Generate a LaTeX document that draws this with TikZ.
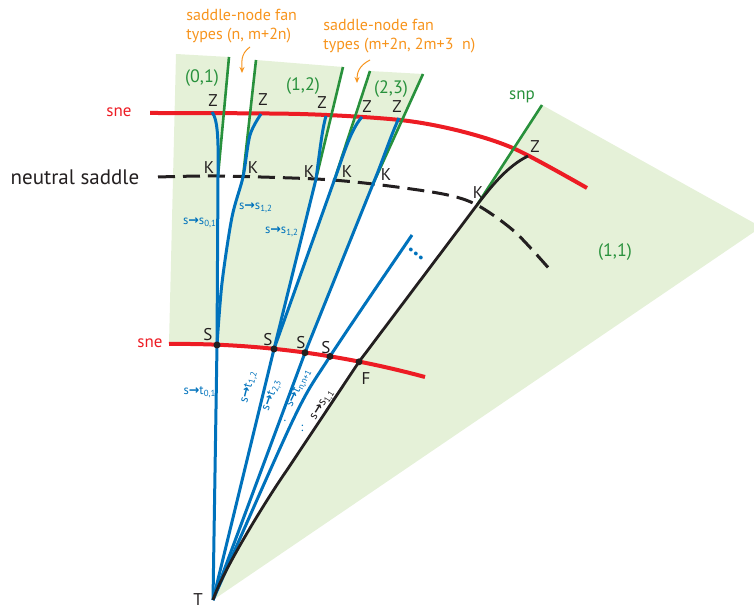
\documentclass[tikz,border=0pt]{standalone}
\usepackage{fontspec}
\setmainfont{PT Sans}
\newfontfamily\arrowfont{DejaVu Sans}
\usetikzlibrary{arrows.meta}
\definecolor{snered}{RGB}{237,28,36}
\definecolor{orbitblue}{RGB}{0,114,188}
\definecolor{fangreen}{RGB}{40,145,60}
\definecolor{fanfill}{RGB}{229,241,216}
\definecolor{notecolor}{RGB}{247,148,29}
\definecolor{inkblack}{RGB}{35,31,32}
\newcommand{\sarr}{{\arrowfont\bfseries →}}

\begin{document}
\begin{tikzpicture}[x=0.5pt,y=-0.5pt,
    lbl/.style={font=\fontsize{8.5}{10}\selectfont, text=inkblack, inner sep=0pt},
    fanlbl/.style={font=\fontsize{9}{11}\selectfont, text=fangreen, inner sep=0pt},
    orblbl/.style={font=\fontsize{6.3}{8}\selectfont, text=orbitblue, inner sep=0pt},
    notelbl/.style={font=\fontsize{8}{9.5}\selectfont, text=notecolor, align=left, inner sep=0pt, anchor=west},
    orbit/.style={orbitblue, line width=1.5pt},
    fanline/.style={fangreen, line width=1.3pt},
    sneline/.style={snered, line width=2pt},
    sdot/.style={circle, fill=inkblack, inner sep=0pt, minimum size=3.5pt},
    notearrow/.style={notecolor, line width=0.5pt, -{Stealth[length=3pt,width=2.5pt]}}
  ]
  \useasboundingbox (0,0) rectangle (754,608);

  % points on the fan
  \coordinate (T)  at (213,600);
  \coordinate (S1) at (217,345);
  \coordinate (S2) at (274,349);
  \coordinate (S3) at (305,352.7);
  \coordinate (S4) at (330,356.4);
  \coordinate (F)  at (359,361.8);
  \coordinate (K1) at (218,176);
  \coordinate (K2) at (243,177);
  \coordinate (K3) at (316,179);
  \coordinate (K4) at (334,181);
  \coordinate (K5) at (373,184);
  \coordinate (K6) at (477,205);
  \coordinate (Z1) at (212,112);
  \coordinate (Z2) at (261,114);
  \coordinate (Z3) at (326,116);
  \coordinate (Z4) at (362,117);
  \coordinate (Z5) at (399,118);
  \coordinate (Z6) at (528,156);
  \coordinate (bend) at (287,470);
  \coordinate (gA) at (229,57);
  \coordinate (gB) at (256,60);
  \coordinate (gC) at (343,67);
  \coordinate (gD) at (370,71);
  \coordinate (gE) at (423,74);
  \coordinate (gF) at (542,105);

  % fan regions
  \fill[fanfill] (176,54) -- (gA) -- (K1) -- (S1) -- (169,344) -- cycle;
  \fill[fanfill] (gB) -- (gC) -- (K3) -- (S2) -- (S1)
    -- plot[smooth] coordinates {(S1) (222,283) (232,217) (K2)} -- cycle;
  \fill[fanfill] (gD) -- (gE) -- (K5) -- (S3) -- (S2) -- (K4) -- cycle;
  \fill[fanfill] (gF) -- (754,223) -- (754,232) -- (T)
    .. controls (222,572) and (266,500) .. (bend) -- (F) -- (K6) -- cycle;

  % neutral saddle curve
  \draw[inkblack, line width=1.5pt, dash pattern=on 8.5pt off 4pt]
    plot[smooth] coordinates {(158,177) (K1) (K3) (K5) (443,194) (K6) (515,232) (552,272)};

  % saddle-node curves
  \draw[sneline] plot[smooth] coordinates {(150,113) (300,114) (400,120) (460,131) (515,149) (587,188)};
  \draw[sneline] (169,344) .. controls (254,343) and (340,354) .. (425,377);

  % saddle-node fan boundaries
  \draw[fanline] (gA) -- (K1);
  \draw[fanline] (gB) -- (K2);
  \draw[fanline] (gC) -- (K3);
  \draw[fanline] (gD) -- (K4);
  \draw[fanline] (gE) -- (K5);
  \draw[fanline] (gF) -- (K6);

  % orbits
  \draw[orbit] (T) -- (S1) -- (K1) .. controls (218.5,140) and (218,120) .. (Z1);
  \draw[orbit] plot[smooth] coordinates {(S1) (222,283) (232,217) (K2) (250,135) (Z2)};
  \draw[orbit] (T) -- (S2) -- (K3) .. controls (320,150) and (322,130) .. (Z3);
  \draw[orbit] (S2) -- (K4) .. controls (342,160) and (350,130) .. (Z4);
  \draw[orbit] (T) -- (S3) -- (K5) .. controls (383,160) and (391,135) .. (Z5);
  \draw[orbit] plot[smooth] coordinates {(T) (293,420) (S4) (412,235)};
  \draw[inkblack, line width=1.4pt, line join=round]
    (T) .. controls (222,572) and (266,500) .. (bend) -- (F) -- (K6)
    .. controls (493,184) and (508,166) .. (Z6);

  \foreach \p in {S1,S2,S3,S4,F}
    \node[sdot] (d\p) at (\p) {};

  % labels
  \node[lbl] (tT) at (198,600) {T};
  \node[lbl] (zA) at (213,101) {Z};
  \node[lbl] (zB) at (263,100) {Z};
  \node[lbl] (zC) at (322,103) {Z};
  \node[lbl] (zD) at (367,107) {Z};
  \node[lbl] (zE) at (397,107) {Z};
  \node[lbl] (zF) at (535,147) {Z};
  \node[lbl] (kA) at (209,168) {K};
  \node[lbl] (kB) at (253,168) {K};
  \node[lbl] (kC) at (309,172) {K};
  \node[lbl] (kD) at (347,172) {K};
  \node[lbl] (kE) at (386,175) {K};
  \node[lbl] (kF) at (478,193) {K};
  \node[lbl] (sA) at (208,335) {S};
  \node[lbl] (sB) at (268,340) {S};
  \node[lbl] (sC) at (301,343) {S};
  \node[lbl] (sD) at (326,348) {S};
  \node[lbl] (fF) at (366,379) {F};

  \node[lbl, text=snered] (sneTop) at (119,112) {sne};
  \node[lbl, text=snered] (sneBot) at (150,343) {sne};
  \node[lbl, font=\fontsize{10.5}{12}\selectfont] (neutral) at (75,177) {neutral saddle};

  \node[fanlbl] (f01) at (202,78) {(0,1)};
  \node[fanlbl] (f12) at (303,86) {(1,2)};
  \node[fanlbl] (f23) at (391,89) {(2,3)};
  \node[fanlbl] (f11) at (615,252) {(1,1)};
  \node[fanlbl, font=\fontsize{8.5}{10}\selectfont] (snp) at (522,97) {snp};

  \node[orblbl] (ss01) at (200,223) {s\sarr s\textsubscript{0,1}};
  \node[orblbl] (ss12a) at (256,208) {s\sarr s\textsubscript{1,2}};
  \node[orblbl] (ss12b) at (282,232) {s\sarr s\textsubscript{1,2}};
  \node[orblbl] (st01) at (200,392) {s\sarr t\textsubscript{0,1}};
  \node[orblbl, rotate=76] (st12) at (249,387) {s\sarr t\textsubscript{1,2}};
  \node[orblbl, rotate=70] (st23) at (272,395) {s\sarr t\textsubscript{2,3}};
  \node[orblbl, rotate=64] (stnn) at (299,388) {s\sarr t\textsubscript{n,n+1}};
  \node[orblbl, text=inkblack, rotate=58] (ss11) at (323,405) {s\sarr s\textsubscript{1,1}};
  \node[orblbl] (dotsA) at (285,421) {.};
  \node[orblbl] (dotsB) at (302,428) {:};
  \node[orblbl, font=\fontsize{12}{12}\bfseries, rotate=-36] (more) at (416,254) {...};

  \node[notelbl] (noteA) at (186,26) {saddle-node fan\\types (n, m+2n)};
  \node[notelbl] (noteB) at (323,36) {saddle-node fan\\types (m+2n, 2m+3\ \ n)};
  \coordinate (nA1) at (250,47);
  \coordinate (nA2) at (242,73);
  \coordinate (nB1) at (370,60);
  \coordinate (nB2) at (357,83);
  \draw[notearrow] (nA1) .. controls (240,54) and (242,63) .. (nA2);
  \draw[notearrow] (nB1) .. controls (358,66) and (357,74) .. (nB2);
\end{tikzpicture}
\end{document}
